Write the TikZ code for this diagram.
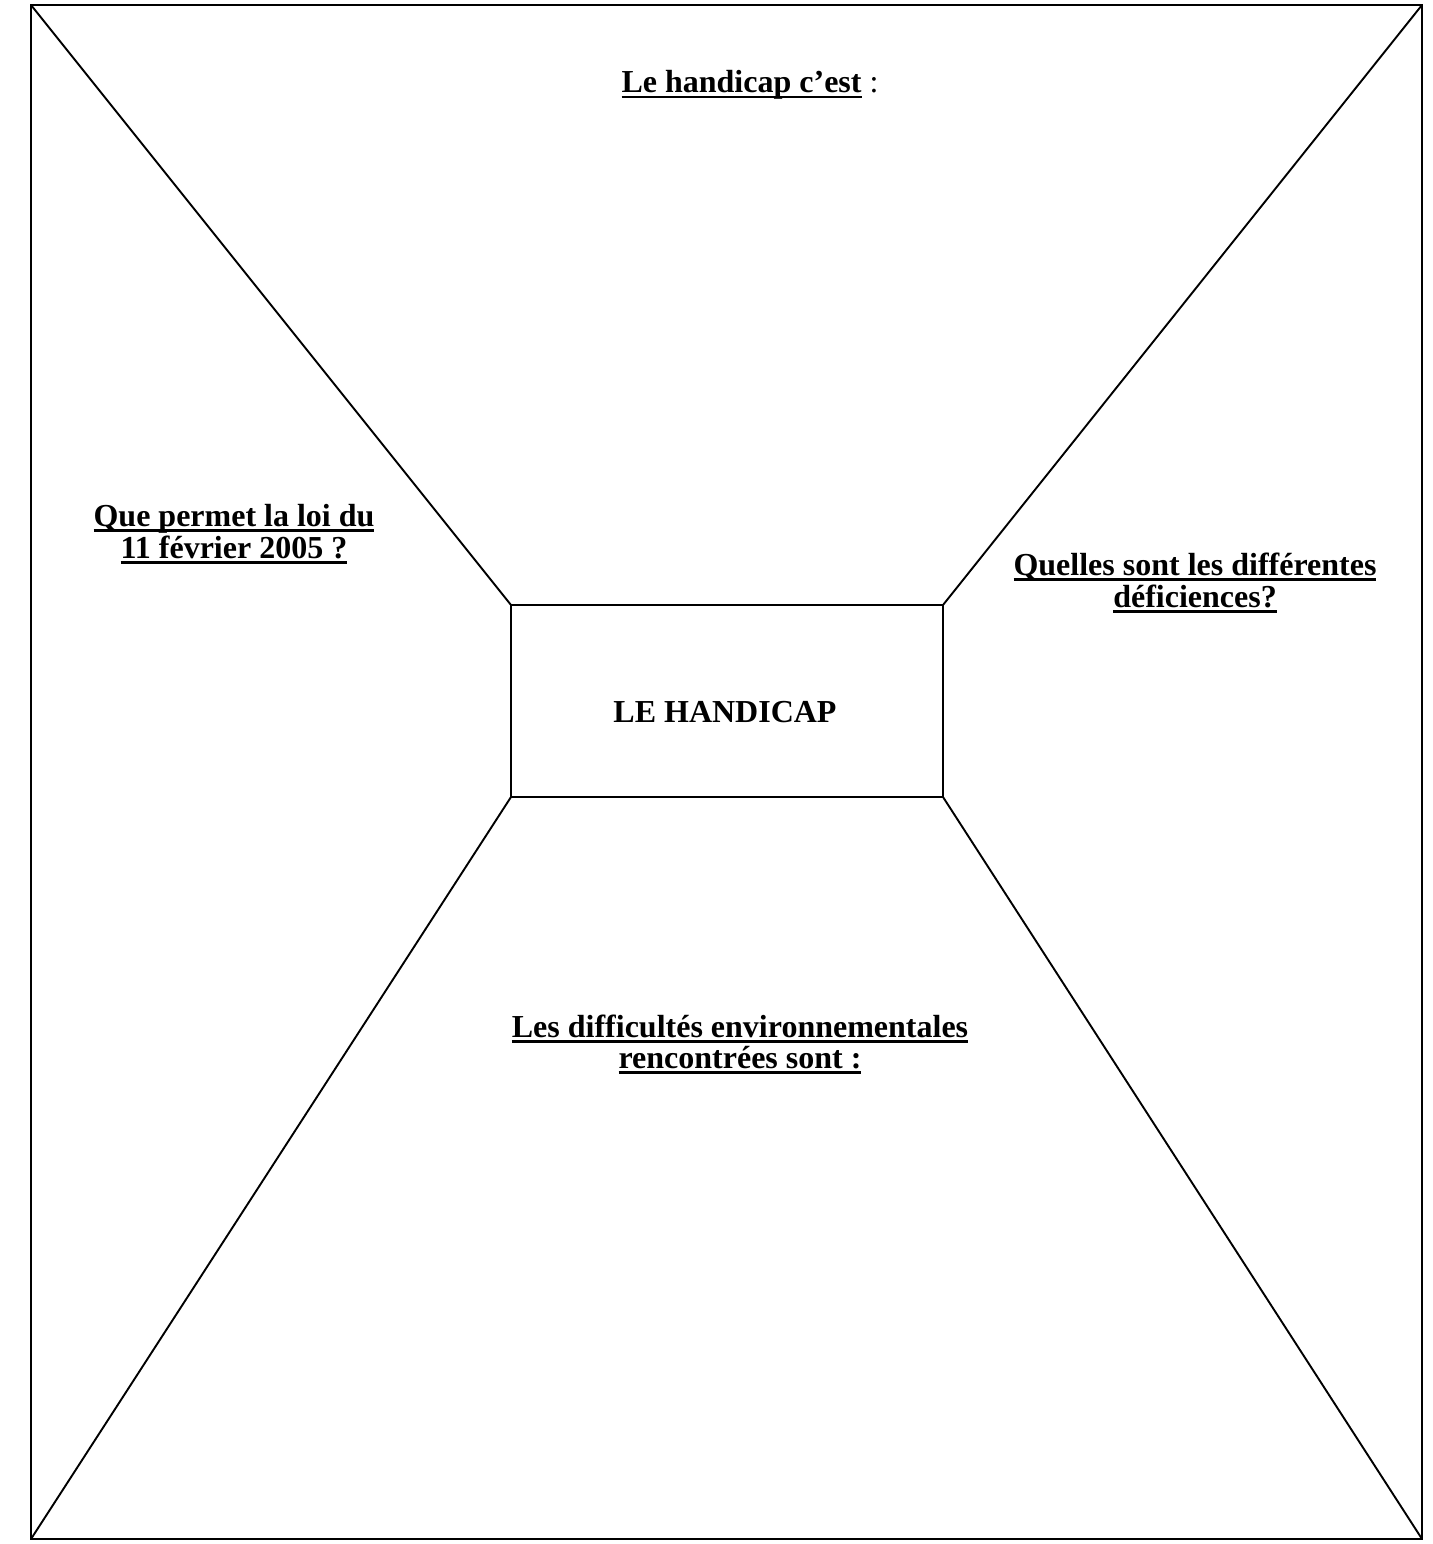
\documentclass[tikz,border=0pt]{standalone}
\usepackage{fontspec}
\setmainfont{Liberation Serif}
\newcommand\myul[1]{\setbox0\hbox{#1}\rlap{\rule[-5.5pt]{\wd0}{2.8pt}}\box0}
\begin{document}
\begin{tikzpicture}[x=1pt,y=-1pt,
  frame/.style={draw=black,line width=2.2pt},
  conn/.style={draw=black,line width=1.9pt},
  lbl/.style={font=\fontsize{32}{32}\selectfont\bfseries,align=center,inner sep=0pt,anchor=base}]
\useasboundingbox (0,0) rectangle (1432,1544);
\coordinate (TL) at (31,5);
\coordinate (TR) at (1422,5);
\coordinate (BL) at (31,1539);
\coordinate (BR) at (1422,1539);
\coordinate (iTL) at (511,605);
\coordinate (iTR) at (943,605);
\coordinate (iBL) at (511,797);
\coordinate (iBR) at (943,797);
\draw[frame] (TL) rectangle (BR);
\draw[conn] (iTL) rectangle (iBR);
\draw[conn] (TL) -- (iTL);
\draw[conn] (TR) -- (iTR);
\draw[conn] (BL) -- (iBL);
\draw[conn] (BR) -- (iBR);
\node[lbl] (top) at (750,93) {\myul{Le handicap c’est}\mdseries\ :};
\node[lbl] (left1) at (234,526) {\myul{Que permet la loi du}};
\node[lbl] (left2) at (234,558) {\myul{11 février 2005 ?}};
\node[lbl] (right1) at (1195,575) {\myul{Quelles sont les différentes}};
\node[lbl] (right2) at (1195,607) {\myul{déficiences?}};
\node[lbl] (center) at (725,722) {LE HANDICAP};
\node[lbl] (bot1) at (740,1037) {\myul{Les difficultés environnementales}};
\node[lbl] (bot2) at (740,1068) {\myul{rencontrées sont :}};
\end{tikzpicture}
\end{document}
